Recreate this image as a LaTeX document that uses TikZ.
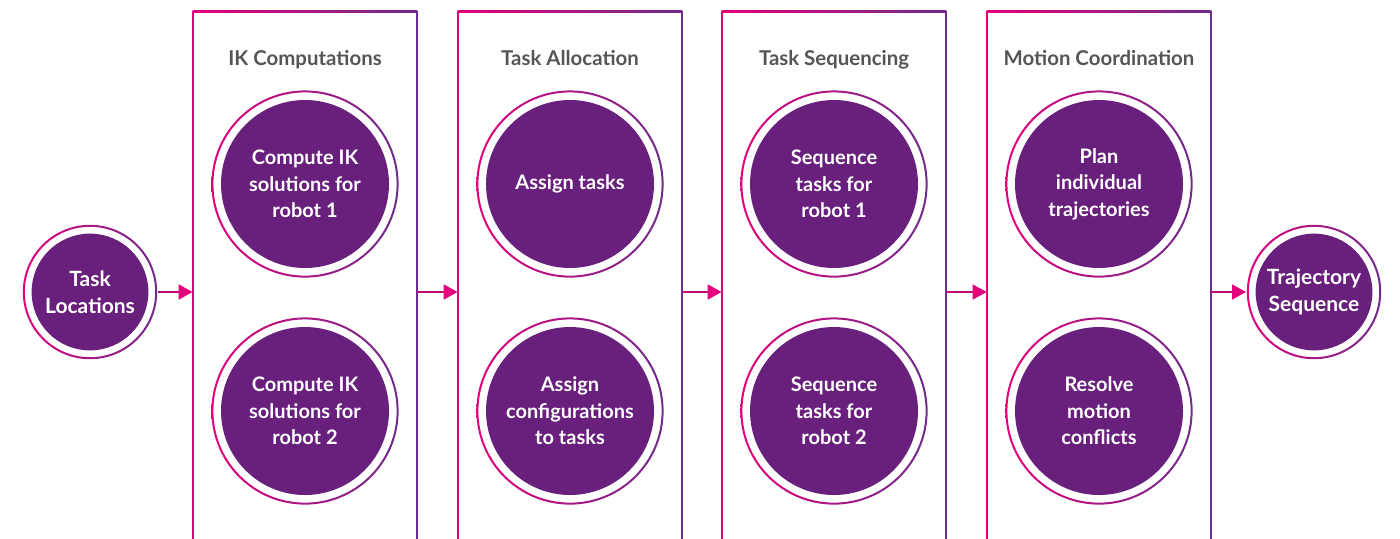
\documentclass[tikz,border=0pt]{standalone}
\usepackage{fontspec}
\setmainfont{Lato}
\usetikzlibrary{arrows.meta}

\definecolor{magentac}{RGB}{228,0,124}
\definecolor{violetc}{RGB}{104,32,124}
\definecolor{ringend}{RGB}{112,44,140}
\definecolor{titlegray}{RGB}{85,85,85}

\begin{document}
\begin{tikzpicture}[x=0.5pt,y=-0.5pt,
  disc/.style 2 args={circle, inner sep=0pt, minimum size=2*#1, text=white, align=center,
    path picture={
      \shade[left color=magentac, right color=ringend, even odd rule]
        (path picture bounding box.center) circle (#1-0.2pt) circle (#1-1.2pt);
      \fill[violetc] (path picture bounding box.center) circle (#2);}},
  stage/.style={disc={47pt}{42pt}, font=\bfseries\fontsize{10}{13.3}\selectfont},
  endpt/.style={disc={33.8pt}{29.2pt}, font=\bfseries\fontsize{10.5}{13.3}\selectfont},
  panel/.style={minimum width=112pt, minimum height=270pt, inner sep=0pt},
  title/.style={anchor=base, text=titlegray, font=\bfseries\fontsize{10.2}{12}\selectfont},
  flow/.style={line width=0.9pt, magentac!70!violetc, -{Triangle[length=7pt,width=7.5pt,color=magentac,fill=magentac]}}]

  \clip (0,0) rectangle (1400,538);

  % panels
  \node[panel] (p1) at (305,282) {};
  \node[panel] (p2) at (570,282) {};
  \node[panel] (p3) at (834,282) {};
  \node[panel] (p4) at (1099,282) {};
  \foreach \p in {p1,p2,p3,p4} {
    \draw[magentac, line width=1pt] (\p.north west) -- (\p.south west);
    \draw[ringend, line width=1pt] (\p.north east) -- (\p.south east);
    \shade[left color=magentac, right color=ringend] ([yshift=0.5pt]\p.north west) rectangle ([yshift=-0.5pt]\p.north east);
  }

  % titles
  \node[title] (t1) at (305,65) {IK Computations};
  \node[title] (t2) at (570,65) {Task Allocation};
  \node[title] (t3) at (834,65) {Task Sequencing};
  \node[title] (t4) at (1099,65) {Motion Coordination};

  % input and output
  \node[endpt] (loc) at (90,292) {Task\\Locations};
  \node[endpt] (traj) at (1314,292) {Trajectory\\Sequence};

  % stages
  \node[stage] (ik1) at (305,184) {Compute IK\\solutions for\\robot 1};
  \node[stage] (ik2) at (305,411) {Compute IK\\solutions for\\robot 2};
  \node[stage] (as1) at (570,184) {Assign tasks};
  \node[stage] (as2) at (570,411) {Assign\\configurations\\to tasks};
  \node[stage] (sq1) at (834,184) {Sequence\\tasks for\\robot 1};
  \node[stage] (sq2) at (834,411) {Sequence\\tasks for\\robot 2};
  \node[stage] (mc1) at (1099,184) {Plan\\individual\\trajectories};
  \node[stage] (mc2) at (1099,411) {Resolve\\motion\\conflicts};

  % arrows
  \draw[flow] (loc.east) -- (loc -| p1.west);
  \draw[flow] (p1.east |- loc) -- (p2.west |- loc);
  \draw[flow] (p2.east |- loc) -- (p3.west |- loc);
  \draw[flow] (p3.east |- loc) -- (p4.west |- loc);
  \draw[flow] (p4.east |- loc) -- (traj.west);

\end{tikzpicture}
\end{document}
